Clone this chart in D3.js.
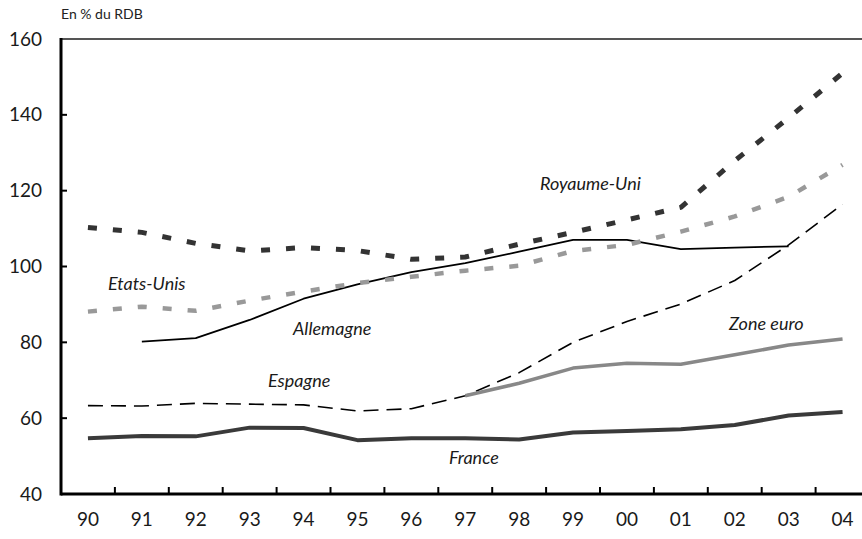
<!DOCTYPE html>
<html><head><meta charset="utf-8">
<script src="https://cdn.jsdelivr.net/npm/d3@7"></script>
<style>body{margin:0;background:#fff}svg{display:block;font-family:Lato,"Open Sans",sans-serif}</style>
</head><body><svg id="c" width="862" height="539"></svg>
<script>
const years = ["90","91","92","93","94","95","96","97","98","99","00","01","02","03","04"];
const yTicks = [40,60,80,100,120,140,160];
const royaumeUni = [110.3,109,106.1,104.1,105,104.2,101.9,102.5,105.9,109,112.3,115.6,127.9,139.2,151];
const etatsUnis  = [88.1,89.4,88.3,91,93.4,95.6,97.3,98.9,100.2,104.1,105.7,109.2,113.2,118.4,126.8];
const allemagne  = [null,80.2,81.1,85.9,91.5,95.3,98.5,100.9,103.9,107,107,104.6,105,105.3,null];
const espagne    = [63.3,63.2,63.9,63.7,63.5,61.9,62.5,65.9,72,80,85.5,90.1,96.3,105.7,116.4];
const zoneEuro   = [null,null,null,null,null,null,null,65.9,69.2,73.2,74.5,74.2,76.7,79.3,80.9];
const france     = [54.7,55.3,55.2,57.5,57.4,54.2,54.7,54.7,54.4,56.2,56.6,57.1,58.2,60.7,61.6];

const svg = d3.select("#c");
const L = 61, T = 39, B = 494, R = 869.5;
const x = d3.scaleBand().domain(years).range([L, R]).padding(0);
const cx = d => x(d) + x.bandwidth()/2;
const y = d3.scaleLinear().domain([40,160]).range([B, T]);

// top frame line
svg.append("line").attr("x1",L).attr("x2",R).attr("y1",T).attr("y2",T).attr("stroke","#555").attr("stroke-width",2);

// y axis
const ya = svg.append("g").attr("transform",`translate(${L},0)`).call(d3.axisLeft(y).tickValues(yTicks).tickSize(0).tickPadding(19));
ya.select(".domain").remove();
ya.selectAll("text").attr("font-size",19).attr("fill","#1a1a1a").style("font-family","Lato");
svg.selectAll(".ytk").data(yTicks.slice(1,-1)).enter().append("line")
  .attr("x1",L).attr("x2",L+6).attr("y1",d=>y(d)).attr("y2",d=>y(d)).attr("stroke","#000").attr("stroke-width",2);

// x axis
const xa = svg.append("g").attr("transform",`translate(0,${B})`).call(d3.axisBottom(x).tickSize(0).tickPadding(19));
xa.select(".domain").remove();
xa.selectAll("text").attr("font-size",19).attr("fill","#1a1a1a").style("font-family","Lato");
svg.selectAll(".xtk").data(years.slice(1)).enter().append("line")
  .attr("x1",d=>x(d)).attr("x2",d=>x(d)).attr("y1",B).attr("y2",B-7).attr("stroke","#000").attr("stroke-width",2);

svg.append("line").attr("x1",L).attr("x2",R).attr("y1",B).attr("y2",B).attr("stroke","#000").attr("stroke-width",3);
svg.append("line").attr("x1",L).attr("x2",L).attr("y1",T-1).attr("y2",B+1.5).attr("stroke","#000").attr("stroke-width",3);

const line = d3.line().defined(d=>d[1]!=null).x(d=>cx(d[0])).y(d=>y(d[1]));
function draw(vals, color, w, dash){
  const p = svg.append("path").datum(years.map((yr,i)=>[yr,vals[i]]))
    .attr("d",line).attr("fill","none").attr("stroke",color).attr("stroke-width",w).attr("stroke-linejoin","round");
  if(dash) p.attr("stroke-dasharray",dash);
}
draw(espagne,"#000",1.6,"15,8");
draw(zoneEuro,"#888",3.5,null);
draw(france,"#3a3a3a",4,null);
draw(allemagne,"#000",1.8,null);
draw(etatsUnis,"#999",4.5,"9,16");
draw(royaumeUni,"#333",5,"9,16");

// title
svg.append("text").attr("x",61).attr("y",19).attr("font-size",14).attr("fill","#222").text("En % du RDB");

// series labels
const labels = [["Royaume-Uni",540,190],["Etats-Unis",108,290],["Allemagne",293,335],["Espagne",268,387],["Zone euro",729,330],["France",449,464]];
svg.selectAll(".lab").data(labels).enter().append("text")
  .attr("x",d=>d[1]).attr("y",d=>d[2]).attr("font-size",18).attr("font-style","italic").attr("fill","#1a1a1a").text(d=>d[0]);
</script></body></html>
